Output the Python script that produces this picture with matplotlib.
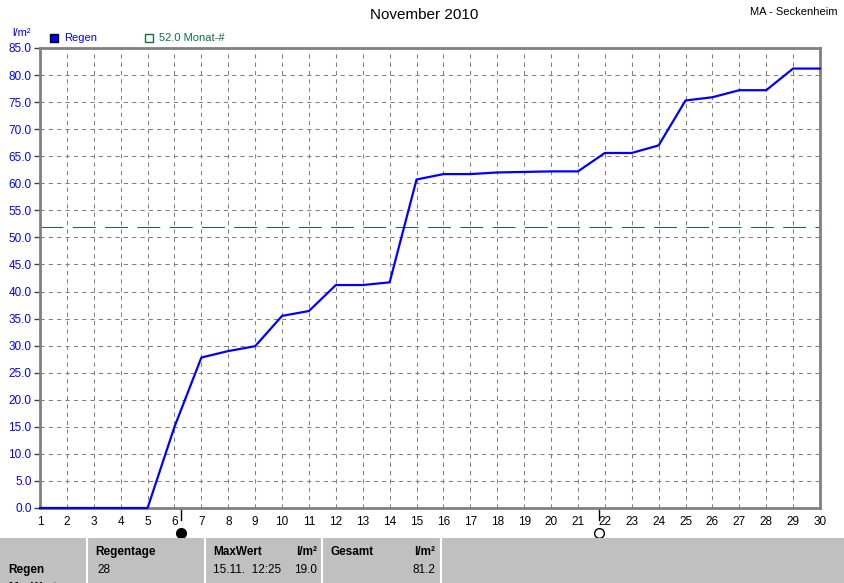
import matplotlib
matplotlib.use("Agg")
import matplotlib.pyplot as plt
import matplotlib.patches as mpatches

plt.rcParams["font.family"] = ["Liberation Sans", "DejaVu Sans"]

# Data
days = list(range(1, 31))
rain_cum = [0.0, 0.0, 0.0, 0.0, 0.0, 15.0, 27.8, 29.0, 29.9, 35.5,
            36.4, 41.2, 41.2, 41.7, 60.7, 61.7, 61.7, 62.0, 62.1, 62.2,
            62.2, 65.6, 65.6, 67.0, 75.3, 75.9, 77.2, 77.2, 81.2, 81.2]
month_avg = 52.0
yticks = [i * 5.0 for i in range(18)]
new_moon_day = 6.24
full_moon_day = 21.78

W, H = 845, 583
fig = plt.figure(figsize=(W / 100, H / 100), dpi=100)

def fx(px):
    return px / W

def fy(py):
    return 1 - py / H

# main axes: day 1 at x=40, day 30 at x=820, 85 at y=48, 0 at y=508
ax = fig.add_axes([fx(40), fy(508), fx(820) - fx(40), fy(48) - fy(508)])
ax.set_xlim(1, 30)
ax.set_ylim(0, 85)

grid_kw = dict(color="#808080", lw=0.75, ls=(0, (4, 4)), zorder=1)
for d in days[1:-1]:
    ax.axvline(d, **grid_kw)
for v in yticks[1:-1]:
    ax.axhline(v, **grid_kw)

ax.axhline(month_avg, color="#107040", lw=0.75, ls=(0, (22, 9)), zorder=2)
ax.plot(days, rain_cum, color="#0000ff", lw=1.6, zorder=3, clip_on=False)

for s in ax.spines.values():
    s.set_color("#808080")
    s.set_linewidth(2)

ax.set_xticks(days)
ax.set_xticklabels([str(d) for d in days], fontsize=8.5)
ax.set_yticks(yticks)
ax.set_yticklabels([f"{v:.1f}" for v in yticks], fontsize=8.5, color="#0000ff")
ax.tick_params(axis="x", length=0, pad=6)
ax.tick_params(axis="y", length=4, width=1, color="#404040", pad=2)

# moon markers below the axis
for d, filled in [(new_moon_day, True), (full_moon_day, False)]:
    ax.plot([d, d], [0, -2.2], color="black", lw=1, clip_on=False)
    ax.plot(d, -4.6, marker="o", ms=7, mfc="black" if filled else "white",
            mec="black", mew=1, clip_on=False)

# titles and legend
fig.text(fx(424), fy(15), "November 2010", ha="center", va="center", fontsize=11)
fig.text(fx(838), fy(12), "MA - Seckenheim", ha="right", va="center", fontsize=8)
fig.text(fx(12), fy(33), "l/m²", ha="left", va="center", fontsize=8, color="#0000ff")
fig.patches.append(mpatches.Rectangle((fx(50), fy(42)), fx(8), fy(34) - fy(42),
                                      transform=fig.transFigure, fc="#0000ff",
                                      ec="black", lw=1))
fig.text(fx(64), fy(38), "Regen", ha="left", va="center", fontsize=8, color="#0000ff")
fig.patches.append(mpatches.Rectangle((fx(145), fy(42)), fx(8), fy(34) - fy(42),
                                      transform=fig.transFigure, fc="white",
                                      ec="#107040", lw=1))
fig.text(fx(159), fy(38), "52.0 Monat-#", ha="left", va="center", fontsize=8,
         color="#107040")

# bottom summary table
fig.patches.append(mpatches.Rectangle((0, 0), 1, fy(538), transform=fig.transFigure,
                                      fc="#c0c0c0", ec="none"))
for px in [87, 205, 322, 441]:
    fig.add_artist(plt.Line2D([fx(px), fx(px)], [0, fy(538)], color="white", lw=1.5))

bold = dict(fontsize=8.5, fontweight="bold", va="center")
norm = dict(fontsize=8.5, va="center")
fig.text(fx(8), fy(570), "Regen", ha="left", **bold)
fig.text(fx(8), fy(588), "MaxWert", ha="left", **bold)
fig.text(fx(95), fy(552), "Regentage", ha="left", **bold)
fig.text(fx(97), fy(570), "28", ha="left", **norm)
fig.text(fx(213), fy(552), "MaxWert", ha="left", **bold)
fig.text(fx(317), fy(552), "l/m²", ha="right", **bold)
fig.text(fx(213), fy(570), "15.11.  12:25", ha="left", **norm)
fig.text(fx(317), fy(570), "19.0", ha="right", **norm)
fig.text(fx(331), fy(552), "Gesamt", ha="left", **bold)
fig.text(fx(435), fy(552), "l/m²", ha="right", **bold)
fig.text(fx(435), fy(570), "81.2", ha="right", **norm)

fig.savefig("out.png", dpi=100)
